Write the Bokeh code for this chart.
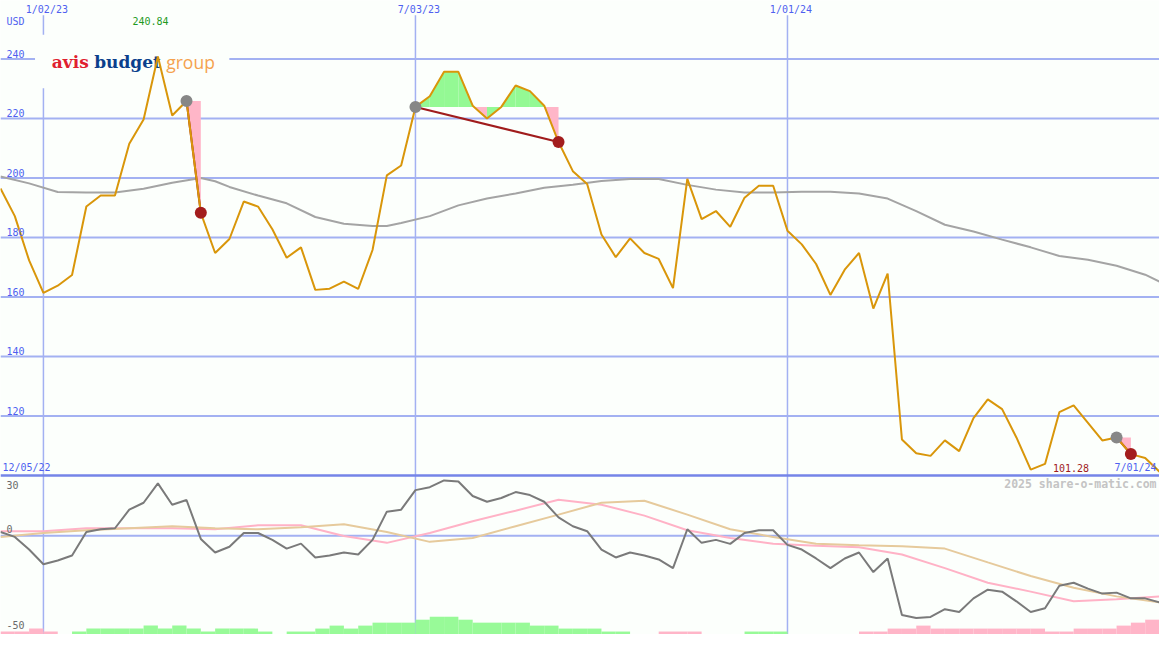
from bokeh.plotting import figure
from bokeh.models import Range1d
from bokeh.core.properties import value
from bokeh.embed import file_html
from bokeh.resources import INLINE

# ---------------- data ----------------
date_labels = ["1/02/23", "7/03/23", "1/01/24"]
date_label_idx = [3, 29, 55]
start_label = "12/05/22"
end_label = "7/01/24"
currency = "USD"
price_ticks = [120, 140, 160, 180, 200, 220, 240]
osc_ticks = [30, 0, -50]

# weekly close, index 0..81
price = [196.5, 187.2, 172.3, 161.4, 163.8, 167.4, 190.4, 194.1, 194.1, 211.5,
         219.7, 240.84, 221.0, 225.9, 188.3, 174.8, 179.5, 192.1, 190.4, 182.8,
         173.2, 176.7, 162.4, 162.8, 165.2, 162.7, 175.8, 200.9, 204.2, 223.9,
         227.5, 235.7, 235.7, 224.3, 220.0, 223.9, 231.1, 229.2, 224.3, 212.1,
         202.3, 198.0, 181.0, 173.4, 179.7, 174.8, 172.8, 163.0, 199.7, 186.2,
         188.9, 183.6, 193.4, 197.4, 197.4, 182.3, 177.7, 171.1, 160.7, 169.2,
         174.8, 156.1, 167.9, 112.1, 107.5, 106.6, 111.8, 108.2, 119.3, 125.6,
         122.3, 112.8, 102.0, 103.9, 121.3, 123.6, 117.7, 111.8, 112.8, 107.2,
         105.9, 101.28]
period_high = 240.84
period_high_idx = 11
last_close = 101.28

# moving average (gray) read at these week indices
ma_idx = [0, 2, 4, 6, 8, 10, 12, 14, 15, 16, 18, 20, 22, 24, 26, 27, 28, 30, 32, 34,
          36, 38, 40, 42, 44, 46, 48, 50, 52, 54, 56, 58, 60, 62, 64, 66, 68, 70, 72, 74,
          76, 78, 80, 81]
ma_val = [200.5, 198.2, 195.3, 195.1, 195.1, 196.4, 198.4, 200.0, 198.9, 197.0,
          194.1, 191.5, 186.9, 184.6, 183.9, 183.9, 184.9, 187.2, 190.8, 193.1,
          194.8, 196.7, 197.7, 199.0, 199.7, 199.7, 197.7, 196.1, 195.1, 195.1,
          195.4, 195.4, 194.8, 193.1, 188.9, 184.3, 182.0, 179.3, 176.7, 173.8,
          172.5, 170.5, 167.5, 165.2]

# signals: start (gray dot) and end (red dot) week indices
sig_start = [13, 29, 78]
sig_end = [14, 39, 79]

# lower panel: deviation line (dark gray), weekly
dev = [1.9, -0.6, -7.0, -14.4, -12.5, -10.0, 1.9, 3.3, 3.8, 13.2,
       16.7, 26.5, 15.7, 18.1, -1.6, -8.5, -5.6, 1.4, 1.4, -2.1,
       -6.5, -4.0, -11.0, -10.0, -8.5, -9.5, -2.1, 12.2, 13.2, 23.1,
       24.6, 28.0, 27.5, 20.1, 17.2, 19.1, 22.1, 20.6, 17.2, 9.3,
       4.8, 2.3, -7.0, -11.0, -8.5, -10.0, -12.0, -16.4, 3.3, -3.6,
       -2.1, -4.1, 1.4, 2.8, 2.8, -4.6, -7.0, -11.5, -16.4, -11.5,
       -8.5, -18.4, -11.5, -40.1, -41.6, -41.1, -37.2, -38.6, -31.7, -27.3,
       -28.3, -33.2, -38.6, -36.7, -25.3, -23.8, -26.8, -29.3, -28.8, -31.7,
       -31.7, -33.7]

# lower panel: smoothed lines read every third week
slow_idx = [0, 3, 6, 9, 12, 15, 18, 21, 24, 27, 30, 33, 36, 39, 42, 45, 48, 51, 54, 57,
            60, 63, 66, 69, 72, 75, 78, 81]
pink_val = [2.3, 2.3, 3.8, 3.8, 3.8, 3.3, 5.3, 5.3, -0.1, -3.6, 1.4, 7.3, 12.7, 18.2,
            15.7, 10.2, 2.8, -1.1, -4.1, -5.1, -5.8, -9.5, -16.4, -23.8, -28.3, -33.2,
            -32.2, -30.7]
tan_val = [-0.6, 1.4, 2.8, 3.8, 4.8, 3.8, 3.3, 4.3, 5.8, 1.9, -3.1, -1.1, 4.8, 10.7,
           16.7, 17.7, 10.7, 3.3, -0.6, -4.1, -4.8, -5.3, -6.5, -13.5, -20.4, -26.3,
           -30.7, -33.7]

# lower panel histogram (one per week interval 0..80)
hist = [-1.5, -1.5, -3, -1.5, 0, 1.5, 3, 3, 3, 3,
        4.5, 3, 4.5, 3, 1.5, 3, 3, 3, 1.5, 0,
        1.5, 1.5, 3, 4.5, 3, 4.5, 6, 6, 6, 7.5,
        9, 9, 7.5, 6, 6, 6, 6, 4.5, 4.5, 3,
        3, 3, 1.5, 1.5, 0, 0, -1.5, -1.5, -1.5, 0,
        0, 0, 1.5, 1.5, 1.5, 0, 0, 0, 0, 0,
        -1.5, -1.5, -3, -3, -4.5, -3, -3, -3, -3, -3,
        -3, -3, -3, -1.5, -1.5, -3, -3, -3, -4.5, -6,
        -7.5]

# ---------------- layout / styles ----------------
REF_W, REF_H = 1175.0, 650.0
N = len(price) - 1
PX_PER_UNIT = 61.0 / 20.0
Y_TOP = 100 + 487 / PX_PER_UNIT
Y_BOT = 100 - (REF_H - 487) / PX_PER_UNIT
LOW_BOT, LOW_AT_488 = -50.0, 30.0
LOW_TOP = LOW_AT_488 + 488 * (LOW_AT_488 - LOW_BOT) / (REF_H - 488)

BG = "#fcfffc"
GRID = "#a3b1f2"
SEP = "#7585e8"
LBL = "#4f5ff0"
FONT = value("DejaVu Sans Mono")
FS = value("10px")


def px_x(px):
    return px / REF_W * N


def px_y(py):
    return Y_TOP - py / PX_PER_UNIT


p = figure(width=1159, height=634, output_backend="svg", toolbar_location=None,
           x_range=Range1d(0, N), y_range=Range1d(Y_BOT, Y_TOP),
           min_border=0, min_border_left=0, min_border_right=0,
           min_border_top=0, min_border_bottom=0,
           background_fill_color=BG, border_fill_color=BG, outline_line_color=None)
p.extra_y_ranges = {"low": Range1d(LOW_BOT, LOW_TOP)}
p.xaxis.visible = False
p.yaxis.visible = False
p.grid.visible = False

# grid
p.segment(x0=[0] * len(price_ticks), x1=[N] * len(price_ticks), y0=price_ticks, y1=price_ticks,
          line_color=GRID, line_width=2)
p.segment(x0=date_label_idx, x1=date_label_idx, y0=[px_y(15)] * 3, y1=[Y_BOT] * 3,
          line_color=GRID, line_width=1.5)
p.segment(x0=[0], x1=[N], y0=[0], y1=[0], line_color=GRID, line_width=2, y_range_name="low")
p.segment(x0=[0], x1=[N], y0=[100], y1=[100], line_color=SEP, line_width=2.5)

# logo backdrop
p.quad(left=[px_x(35)], right=[px_x(232)], top=[px_y(35)], bottom=[px_y(90)],
       fill_color=BG, line_color=None)
p.text(x=[px_x(52)], y=[px_y(63)], text=["avis"], text_font=value("DejaVu Serif"),
       text_font_style="bold", text_font_size=value("17px"), text_color="#e0202f",
       text_baseline="middle")
p.text(x=[px_x(95)], y=[px_y(63)], text=["budget"], text_font=value("DejaVu Serif"),
       text_font_style="bold", text_font_size=value("17px"), text_color="#0b3f8c",
       text_baseline="middle")
p.text(x=[px_x(168)], y=[px_y(63)], text=["group"], text_font=value("Open Sans"),
       text_font_size=value("17.5px"), text_color="#f5a24e", text_baseline="middle")

# lower histogram
hx_l, hx_r, h_top, h_col = [], [], [], []
for i, v in enumerate(hist):
    if v == 0:
        continue
    hx_l.append(i)
    hx_r.append(i + 1)
    h_top.append(LOW_BOT + abs(v))
    h_col.append("#98fa98" if v > 0 else "#ffb5c8")
p.quad(left=hx_l, right=hx_r, bottom=[LOW_BOT] * len(hx_l), top=h_top,
       fill_color=h_col, line_color=None, y_range_name="low")

# lower lines
p.line(slow_idx, pink_val, line_color="#ffb2c6", line_width=2, y_range_name="low")
p.line(slow_idx, tan_val, line_color="#e6ca9c", line_width=2, y_range_name="low")
p.line(list(range(len(dev))), dev, line_color="#7a7a7a", line_width=2, y_range_name="low")

# moving average
p.line(ma_idx, ma_val, line_color="#a4a4a4", line_width=2)

# signal fills
fxs, fys, fcol = [], [], []
for s, e in zip(sig_start, sig_end):
    base = price[s]
    for i in range(s, e):
        fxs.append([i, i, i + 1, i + 1])
        fys.append([base, price[i], price[i + 1], base])
        fcol.append("#94f994" if price[i + 1] >= base else "#ffb6c8")
p.patches(xs=fxs, ys=fys, fill_color=fcol, line_color=None)

# connecting lines
p.segment(x0=sig_start, y0=[price[s] for s in sig_start],
          x1=sig_end, y1=[price[e] for e in sig_end], line_color="#a01c1c", line_width=2)

# price
p.line(list(range(len(price))), price, line_color="#d9960a", line_width=2)

# dots
p.scatter(sig_start, [price[s] for s in sig_start], size=12, fill_color="#878787",
          line_color=None)
p.scatter(sig_end, [price[e] for e in sig_end], size=12, fill_color="#a31d1d",
          line_color=None)

# texts (centres given)
p.text(x=[px_x(6)] * len(price_ticks), y=[t + 5.5 / PX_PER_UNIT for t in price_ticks],
       text=[str(t) for t in price_ticks], text_font=FONT, text_font_size=FS,
       text_color=LBL, text_baseline="middle")
p.text(x=[px_x(6)], y=[px_y(21.5)], text=[currency], text_font=FONT,
       text_font_size=FS, text_color=LBL, text_baseline="middle")
p.text(x=[i + px_x(3.5) for i in date_label_idx], y=[px_y(9)] * 3, text=date_labels,
       text_font=FONT, text_font_size=FS, text_color=LBL,
       text_align="center", text_baseline="middle")
p.text(x=[period_high_idx - px_x(7.5)], y=[px_y(21.5)], text=["%.2f" % period_high],
       text_font=FONT, text_font_size=FS, text_color="#1f9a1f",
       text_align="center", text_baseline="middle")
p.text(x=[px_x(1067)], y=[px_y(479)], text=["%.2f" % last_close], text_font=FONT,
       text_font_size=FS, text_color="#a01c1c", text_baseline="middle")
p.text(x=[px_x(1172)], y=[px_y(479)], text=[end_label], text_font=FONT,
       text_font_size=FS, text_color=LBL, text_align="right",
       text_baseline="middle")
p.text(x=[px_x(2)], y=[px_y(479)], text=[start_label], text_font=FONT,
       text_font_size=FS, text_color=LBL, text_baseline="middle")
p.text(x=[px_x(1172)], y=[px_y(496)], text=["2025 share-o-matic.com"], text_font=FONT,
       text_font_size=value("11.5px"), text_font_style="bold", text_color="#c4c4c4",
       text_align="right", text_baseline="middle")
p.text(x=[px_x(6)] * 3, y=[px_y(496.5), px_y(541.5), px_y(640)],
       text=[str(t) for t in osc_ticks], text_font=FONT, text_font_size=FS,
       text_color="#6a6a6a", text_baseline="middle")

open("out.html", "w").write(file_html(p, INLINE))
